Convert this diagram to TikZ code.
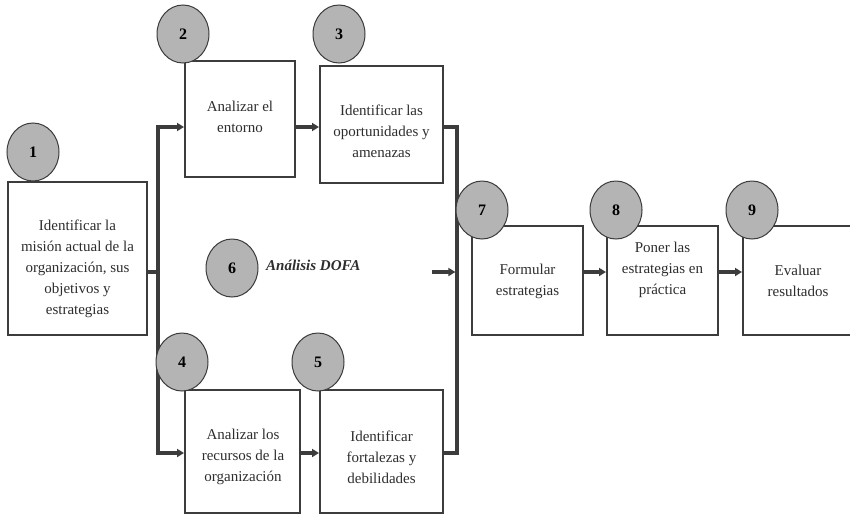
\documentclass[tikz,border=0pt]{standalone}
\usepackage{fontspec}
\setmainfont{Liberation Serif}
\usetikzlibrary{arrows.meta,shapes.geometric}
\definecolor{linegray}{HTML}{3C3C3C}
\definecolor{textgray}{HTML}{2E2E2E}
\definecolor{discgray}{HTML}{B4B4B4}
\begin{document}
\begin{tikzpicture}[x=1pt,y=-1pt,
  stepbox/.style={draw=linegray,line width=2pt,fill=white,inner sep=0pt},
  steptext/.style={text=textgray,align=center,font=\fontsize{15}{21}\selectfont,inner sep=0pt},
  stepnum/.style={ellipse,draw=linegray,line width=1pt,fill=discgray,
    minimum width=52pt,minimum height=58pt,inner sep=0pt,
    text=black,font=\fontsize{16}{18}\selectfont\bfseries},
  conn/.style={draw=linegray,line width=3.2pt,line join=miter},
  tip/.style={-{Triangle[length=7pt,width=8pt]}}]
\useasboundingbox (0,0) rectangle (850,514);
\fill[white] (0,0) rectangle (850,514);

% boxes
\node[stepbox,minimum width=139pt,minimum height=153pt] (b1) at (77.5,258.5) {};
\node[stepbox,minimum width=110pt,minimum height=116pt] (b2) at (240,119) {};
\node[stepbox,minimum width=123pt,minimum height=117pt] (b3) at (381.5,124.5) {};
\node[stepbox,minimum width=115pt,minimum height=123pt] (b4) at (242.5,451.5) {};
\node[stepbox,minimum width=123pt,minimum height=123pt] (b5) at (381.5,451.5) {};
\node[stepbox,minimum width=111pt,minimum height=109pt] (b7) at (527.5,280.5) {};
\node[stepbox,minimum width=111pt,minimum height=109pt] (b8) at (662.5,280.5) {};
\node[stepbox,minimum width=110pt,minimum height=109pt] (b9) at (798,280.5) {};

% box texts
\node[steptext] (t1) at (77.5,269) {Identificar la\\misión actual de la\\organización, sus\\objetivos y\\estrategias};
\node[steptext] (t2) at (240,117) {Analizar el\\entorno};
\node[steptext] (t3) at (381.5,131) {Identificar las\\oportunidades y\\amenazas};
\node[steptext] (t4) at (243,457) {Analizar los\\recursos de la\\organización};
\node[steptext] (t5) at (381.5,457) {Identificar\\fortalezas y\\debilidades};
\node[steptext] (t7) at (527.5,281) {Formular\\estrategias};
\node[steptext] (t8) at (662.5,270) {Poner las\\estrategias en\\práctica};
\node[steptext] (t9) at (798,281) {Evaluar\\resultados};

% routing rows
\coordinate (rowtop) at (0,127);
\coordinate (rowmid) at (0,272);
\coordinate (rowbot) at (0,453);
\coordinate (jl) at (158,272);
\coordinate (jr) at (457,272);
\coordinate (inmid) at (432,272);

% connectors
\draw[conn] (b1.east |- rowmid) -- (jl);
\draw[conn,tip] (jl) |- (b2.west |- rowtop);
\draw[conn,tip] (jl) |- (b4.west |- rowbot);
\draw[conn,tip] (b2.east |- rowtop) -- (b3.west |- rowtop);
\draw[conn,tip] (b4.east |- rowbot) -- (b5.west |- rowbot);
\draw[conn] (b3.east |- rowtop) -| (jr) |- (b5.east |- rowbot);
\draw[conn,tip,shorten >=1.6pt] (inmid) -- (jr);
\draw[conn,tip] (b7.east |- rowmid) -- (b8.west |- rowmid);
\draw[conn,tip] (b8.east |- rowmid) -- (b9.west |- rowmid);

% numbered discs
\node[stepnum] (n1) at (33,152) {1};
\node[stepnum] (n2) at (183,34) {2};
\node[stepnum] (n3) at (339,34) {3};
\node[stepnum] (n4) at (182,362) {4};
\node[stepnum] (n5) at (318,362) {5};
\node[stepnum] (n6) at (232,268) {6};
\node[stepnum] (n7) at (482,210) {7};
\node[stepnum] (n8) at (616,210) {8};
\node[stepnum] (n9) at (752,210) {9};

% SWOT caption
\node[anchor=west,inner sep=0pt,text=textgray,font=\fontsize{15}{18}\selectfont\bfseries\itshape] (dofa) at (266,265) {Análisis DOFA};
\end{tikzpicture}
\end{document}
